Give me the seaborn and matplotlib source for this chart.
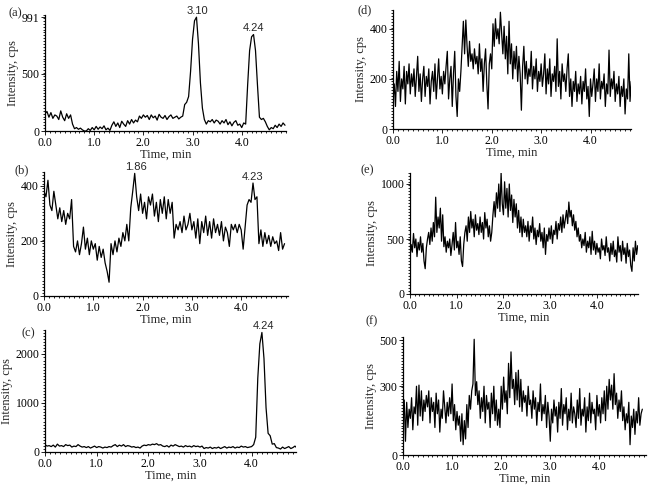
import numpy as np
import matplotlib
matplotlib.use('Agg')
import matplotlib.pyplot as plt
import matplotlib.ticker as ticker
import seaborn as sns

sns.set_style('white')
plt.rcParams['font.family'] = ['Liberation Serif', 'DejaVu Serif']

# sampling step (min) of each trace
dt_abc = 0.04
dt_def = 0.025

a_int = [150, 170, 120, 160, 110, 140, 130, 100, 175, 120, 90, 150, 110, 140,
         60, 20, 30, 15, 25, 10, 0, 0, 20, 5, 30, 10, 40, 15, 35, 20, 45, 10, 25, 5,
         50, 80, 40, 70, 30, 85, 60, 40, 90, 60, 100, 70, 95, 80,
         130, 110, 140, 120, 135, 100, 140, 115, 130, 95, 145, 120, 110, 135, 100, 125, 140, 110, 120, 130, 105, 120,
         130, 230, 250, 300, 520, 800, 960, 991, 760, 420, 200, 100, 60, 90,
         80, 100, 70, 95, 85, 60, 90, 70, 100, 55, 80, 45, 75, 90, 50, 60, 30, 70,
         60, 400, 700, 820, 840, 700, 400, 120, 100, 110, 80, 40, 10, 30, 20, 50, 30, 60, 40, 70, 50]

b_int = [380, 360, 420, 330, 310, 380, 330, 280, 320, 270,
         310, 260, 300, 280, 350, 180, 160, 200, 150, 190,
         250, 170, 210, 150, 200, 170, 190, 130, 180, 140,
         170, 120, 90, 50, 190, 150, 200, 160, 210, 180,
         230, 200, 260, 200, 320, 380, 445, 360, 310, 370,
         300, 340, 280, 360, 330, 370, 290, 340, 270, 350,
         300, 360, 280, 350, 300, 340, 210, 260, 240, 270,
         230, 290, 240, 260, 300, 240, 270, 210, 280, 190,
         270, 230, 290, 220, 270, 210, 280, 230, 260, 220,
         270, 200, 250, 230, 180, 260, 240, 260, 230, 260,
         240, 170, 250, 330, 350, 340, 410, 350, 360, 190,
         240, 180, 230, 190, 220, 180, 215, 190, 200, 165,
         230, 170, 190]

c_int = [150, 120, 130, 110, 140, 100, 160, 120, 130, 110, 150, 130, 140, 100, 120, 110, 150, 120, 100, 110,
         90, 110, 80, 100, 120, 90, 110, 100, 80, 100,
         90, 110, 100, 130, 150, 110, 140, 120, 150, 110,
         130, 120, 100, 110, 90, 100, 80, 120, 140, 130,
         150, 140, 160, 150, 170, 140, 150, 120, 110, 130,
         100, 140, 120, 150, 130, 110, 120, 100, 130, 110,
         120, 100, 130, 110, 120, 100, 120, 70, 90, 80,
         100, 70, 90, 80, 100, 70, 90, 110, 80, 100,
         90, 110, 80, 100, 90, 120, 100, 110, 90, 100,
         110, 150, 300, 1500, 2200, 2430, 1900, 900, 380, 330,
         160, 170, 90, 80, 60, 100, 70, 90, 110, 70,
         90, 120, 80]

d_int = [120, 180, 90, 230, 150, 270, 110, 200, 160, 250, 100, 230, 180, 260, 140, 220, 170, 240, 130, 210,
         290, 150, 220, 110, 200, 250, 130, 210, 170, 240, 100, 190, 230, 150, 260, 120, 200, 280, 160, 210,
         140, 230, 180, 250, 310, 120, 200, 250, 90, 220, 310, 130, 50, 200, 150, 230, 330, 430, 300, 435,
         330, 250, 350, 270, 300, 240, 320, 260, 290, 220, 340, 230, 280, 150, 260, 320, 180, 80, 260, 300,
         240, 420, 330, 440, 360, 400, 340, 466, 380, 300, 410, 280, 370, 220, 430, 260, 340, 200, 310, 240,
         330, 190, 290, 220, 75, 250, 330, 200, 270, 180, 240, 210, 310, 160, 250, 200, 280, 150, 230, 190,
         260, 170, 220, 300, 140, 240, 180, 280, 130, 220, 190, 250, 150, 360, 170, 230, 120, 260, 190, 220,
         150, 240, 300, 130, 200, 90, 190, 150, 230, 110, 180, 140, 210, 100, 190, 150, 240, 120, 170, 50,
         200, 130, 180, 240, 110, 200, 150, 260, 120, 190, 160, 220, 90, 180, 140, 315, 130, 200, 160, 230,
         110, 180, 140, 210, 90, 170, 130, 200, 60, 160, 120, 300, 110, 190, 130, 170]

e_int = [330, 450, 380, 550, 420, 500, 340, 470, 400, 520, 380, 460, 300, 230, 420, 500, 560, 450, 600, 480,
         650, 520, 880, 560, 700, 600, 780, 480, 720, 430, 520, 380, 480, 420, 500, 350, 450, 560, 400, 650,
         420, 480, 360, 520, 300, 250, 450, 560, 620, 480, 700, 560, 750, 600, 680, 520, 720, 580, 640, 540,
         700, 560, 650, 500, 740, 600, 680, 520, 620, 480, 560, 720, 840, 700, 920, 780, 1000, 750, 1100, 820,
         720, 1020, 780, 960, 700, 1000, 760, 900, 650, 860, 700, 820, 600, 760, 560, 700, 520, 680, 560, 620,
         520, 660, 480, 620, 560, 700, 500, 600, 450, 580, 520, 640, 480, 560, 420, 600, 360, 540, 480, 600,
         500, 620, 460, 580, 540, 660, 500, 640, 580, 700, 560, 720, 600, 680, 760, 640, 836, 700, 760, 620,
         720, 580, 660, 520, 600, 480, 540, 420, 500, 440, 560, 380, 480, 420, 520, 360, 570, 400, 480, 360,
         460, 380, 420, 320, 500, 400, 440, 350, 520, 380, 420, 300, 460, 360, 480, 340, 400, 290, 520, 380,
         440, 300, 480, 360, 420, 280, 460, 340, 400, 260, 206, 420, 300, 480, 360, 440]

f_int = [150, 240, 60, 230, 120, 200, 160, 250, 110, 210, 180, 300, 130, 305, 170, 280, 150, 240, 190, 260,
         210, 280, 140, 250, 190, 230, 120, 270, 180, 240, 100, 200, 160, 280, 210, 140, 230, 170, 250, 180,
         310, 150, 220, 110, 190, 130, 170, 60, 180, 45, 150, 70, 220, 120, 260, 200, 280, 310, 505, 260,
         320, 220, 280, 160, 250, 190, 300, 140, 260, 200, 230, 120, 270, 180, 300, 150, 240, 130, 200, 120,
         300, 200, 340, 230, 280, 180, 400, 250, 450, 290, 330, 220, 360, 240, 370, 210, 330, 190, 280, 230,
         260, 170, 300, 220, 240, 160, 280, 200, 250, 130, 230, 190, 310, 150, 220, 180, 260, 120, 230, 170,
         60, 200, 140, 240, 170, 210, 100, 230, 160, 290, 130, 220, 180, 250, 110, 200, 150, 270, 140, 210,
         180, 120, 240, 160, 290, 130, 200, 170, 250, 100, 210, 150, 270, 140, 230, 180, 200, 110, 260, 170,
         220, 140, 250, 180, 280, 150, 300, 200, 330, 240, 305, 200, 355, 220, 270, 160, 240, 190, 280, 150,
         210, 110, 180, 140, 230, 45, 170, 120, 200, 90, 190, 140, 250, 130, 180, 200]

a_peaks = [3.10, 4.24]
b_peaks = [1.86, 4.23]
c_peaks = [4.24]

a_yticks = [0, 500, 991]
b_yticks = [0, 200, 400]
c_yticks = [0, 1000, 2000]
d_yticks = [0, 200, 400]
e_yticks = [0, 500, 1000]
f_yticks = [0, 300, 500]

W, H = 652, 487
fig = plt.figure(figsize=(W / 100, H / 100), dpi=100)


def box(l, t, r, b):
    return [l / W, 1 - b / H, (r - l) / W, (b - t) / H]


panels = [
    ('(a)', a_int, dt_abc, box(45, 15, 286, 131), (15, 13), 4.9, 1010, a_yticks, a_peaks, 0.9),
    ('(b)', b_int, dt_abc, box(44, 172, 288, 296), (22, 170), 4.95, 450, b_yticks, b_peaks, 0.9),
    ('(c)', c_int, dt_abc, box(45, 330, 296, 452), (28, 333), 4.86, 2480, c_yticks, c_peaks, 0.9),
    ('(d)', d_int, dt_def, box(393, 10, 631, 129), (365, 10), 4.82, 475, d_yticks, [], 0.9),
    ('(e)', e_int, dt_def, box(410, 173, 638, 294), (367, 170), 4.88, 1100, e_yticks, [], 0.9),
    ('(f)', f_int, dt_def, box(403, 337, 646, 455), (372, 321), 4.95, 515, f_yticks, [], 0.9),
]

for name, vals, dt, rect, lab, xmax, ymax, yt, peaks, lw in panels:
    vals = np.array(vals, dtype=float)
    t = np.arange(len(vals)) * dt
    ax = fig.add_axes(rect)
    sns.lineplot(x=t, y=vals, ax=ax, color='black', lw=lw)
    ax.set_xlim(0, xmax)
    ax.set_ylim(0, ymax)
    ax.set_xticks([0, 1, 2, 3, 4])
    ax.xaxis.set_major_formatter(ticker.FormatStrFormatter('%.1f'))
    ax.set_yticks(yt)
    ax.xaxis.set_minor_locator(ticker.MultipleLocator(0.1))
    ax.yaxis.set_minor_locator(ticker.MultipleLocator(ymax / 40))
    ax.tick_params(which='both', direction='out', bottom=True, left=True,
                   labelsize=8.5, width=0.6, pad=1, colors='black')
    ax.tick_params(which='major', length=3)
    ax.tick_params(which='minor', length=1.5)
    sns.despine(ax=ax)
    for s in ['left', 'bottom']:
        ax.spines[s].set_color('black')
        ax.spines[s].set_linewidth(0.9)
    ax.set_xlabel('Time, min', fontsize=9, labelpad=0)
    ax.set_ylabel('Intensity, cps', fontsize=9, labelpad=2)
    fig.text(lab[0] / W, 1 - lab[1] / H, name, fontsize=9, ha='center', va='center')
    for p in peaks:
        near = np.abs(t - p) < 0.08
        ax.annotate(f'{p:.2f}', xy=(p, vals[near].max()), xytext=(0, 1),
                    textcoords='offset points', ha='center', va='bottom',
                    fontsize=8, family='Liberation Sans', annotation_clip=False)

fig.savefig('out.png', dpi=100)
